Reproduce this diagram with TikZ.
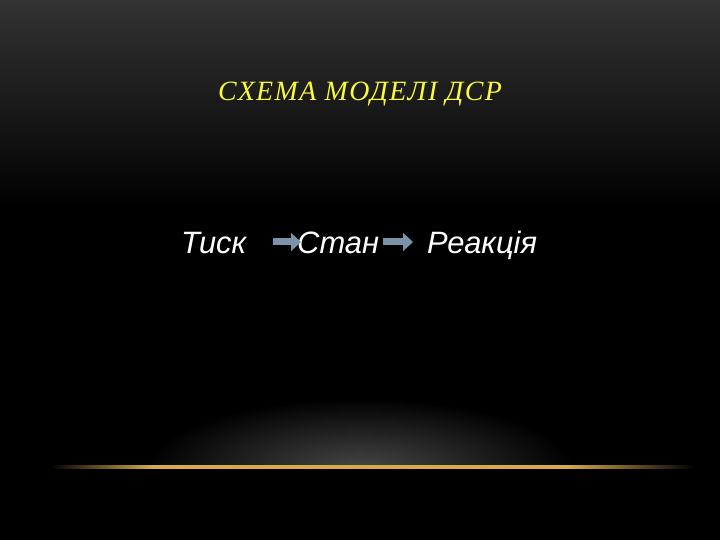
\documentclass[tikz,border=0pt]{standalone}
\usepackage{fontspec}
\setmainfont{Liberation Serif}
\setsansfont{Liberation Sans}
\usetikzlibrary{arrows.meta}
\definecolor{titleyellow}{RGB}{250,250,60}
\definecolor{arrowblue}{RGB}{122,146,170}
\definecolor{glowgold}{RGB}{215,170,75}
\pgfdeclarehorizontalshading{goldline}{100bp}{color(0bp)=(black); color(25bp)=(black); color(33bp)=(glowgold); color(65bp)=(glowgold); color(75bp)=(black); color(100bp)=(black)}
\tikzset{
  title/.style={text=titleyellow,font=\fontsize{28}{33}\selectfont\itshape\addfontfeatures{LetterSpace=5}},
  word/.style={text=white,font=\fontsize{31}{36}\selectfont\sffamily\itshape,anchor=base west,inner sep=0pt},
  blockarrow/.style={draw=arrowblue,line width=7bp,-{Triangle[length=10bp,width=18bp]}}
}
\begin{document}
\begin{tikzpicture}[x=1bp,y=-1bp]
\useasboundingbox (0,0) rectangle (720,540);
% background
\fill[black] (0,0) rectangle (720,540);
\shade[top color=black!80,bottom color=black] (0,0) rectangle (720,210);
\begin{scope}
\clip (0,380) rectangle (720,466);
\shade[inner color=black!72,outer color=black] (360,470) ellipse [x radius=215,y radius=72];
\end{scope}
\shade[shading=goldline] (50,465.3) rectangle (695,468.3);
% title
\node[title] (title) at (360,94) {СХЕМА МОДЕЛІ ДСР};
% model
\node[word] (tysk) at (181,254) {Тиск};
\node[word] (stan) at (297,254) {Стан};
\node[word] (reakc) at (427,254) {Реакція};
\draw[blockarrow] ([xshift=27bp,yshift=12bp]tysk.base east) -- ([xshift=4bp,yshift=12bp]stan.base west);
\draw[blockarrow] ([xshift=4bp,yshift=12bp]stan.base east) -- ([xshift=-14bp,yshift=12bp]reakc.base west);
\end{tikzpicture}
\end{document}
